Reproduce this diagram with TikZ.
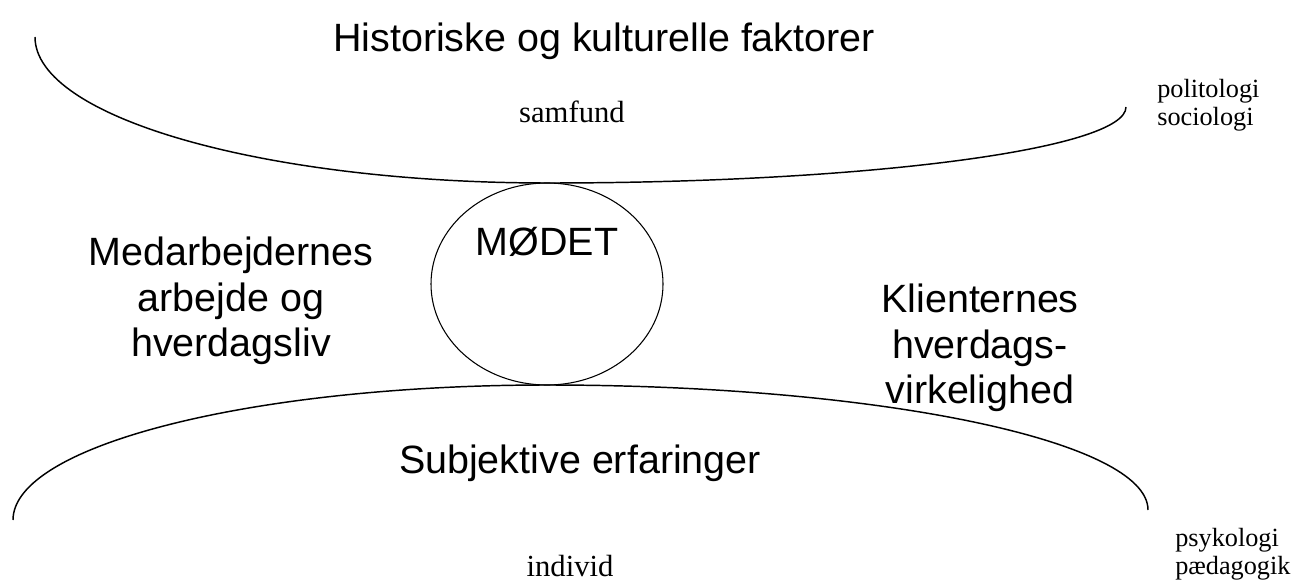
\documentclass[tikz,border=0pt]{standalone}
\usepackage{fontspec}
\setmainfont{Liberation Serif}
\newfontfamily\arialfont{Liberation Sans}
\usepackage{tkz-euclide}
\usepackage{amsmath}

\tikzset{
  stor/.style={font=\arialfont\fontsize{29.6}{34}\selectfont, inner sep=0pt, align=center},
  lille/.style={font=\fontsize{19.7}{21}\selectfont, inner sep=0pt, align=left},
  mellem/.style={font=\fontsize{23}{26.5}\selectfont, inner sep=0pt},
}

\begin{document}
\begin{tikzpicture}[x=0.75pt, y=-0.75pt]
    \useasboundingbox (0,0) rectangle (1295,581);
    \tkzDefPoints{35/37/A,548/183/B,1126/107/C,13/520/D,547/385/E,1148/510/F,547/284/M}
    % SAMFUND
    \draw[line width=1.1pt] (A) .. controls (35,117.6) and (264.7,183) .. (B)
        .. controls (867.2,183) and (1126,149) .. (C);
    % INDIVID
    \draw[line width=1.1pt] (D) .. controls (13,445.4) and (252,385) .. (E)
        .. controls (879,385) and (1148,441) .. (F);
    \draw[line width=0.8pt] (M) ellipse [x radius=116, y radius=101]; %MØDET
    \node[stor, anchor=base] (hist) at (604,52) {Historiske og kulturelle faktorer};
    \node[mellem, anchor=base] (samf) at (572,123) {samfund};
    \node[lille, anchor=north west] (pol) at (1157,79) {politologi\\sociologi};
    \node[stor, anchor=base] (mod) at (547,255) {MØDET};
    \node[stor, anchor=north] (medarb) at (231,237) {Medarbejdernes\\arbejde og\\hverdagsliv};
    \node[stor, anchor=north] (klient) at (980,284) {Klienternes\\hverdags-\\virkelighed};
    \node[stor, anchor=base] (subj) at (580,473) {Subjektive erfaringer};
    \node[mellem, anchor=base] (indiv) at (570,576) {individ};
    \node[lille, anchor=north west] (psyk) at (1175,528) {psykologi\\pædagogik};
\end{tikzpicture}
\end{document}
